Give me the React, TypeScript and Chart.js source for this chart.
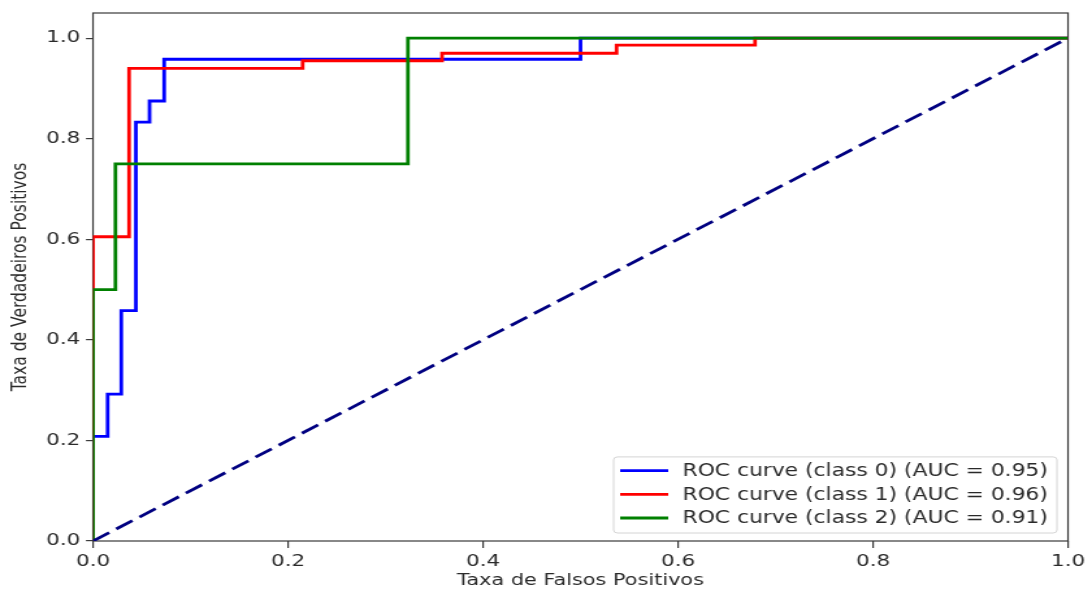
import React, { useEffect, useRef } from 'react';
import { Chart, registerables } from 'chart.js';

Chart.register(...registerables);

// ---- data ----
const fprClass0 = [0, 0, 0.015, 0.015, 0.029, 0.029, 0.044, 0.044, 0.058, 0.058, 0.073, 0.073, 0.5, 0.5, 1];
const tprClass0 = [0, 0.208, 0.208, 0.292, 0.292, 0.458, 0.458, 0.833, 0.833, 0.875, 0.875, 0.958, 0.958, 1, 1];

const fprClass1 = [0, 0, 0.037, 0.037, 0.215, 0.215, 0.358, 0.358, 0.537, 0.537, 0.679, 0.679, 1];
const tprClass1 = [0, 0.605, 0.605, 0.94, 0.94, 0.955, 0.955, 0.97, 0.97, 0.986, 0.986, 1, 1];

const fprClass2 = [0, 0, 0.023, 0.023, 0.323, 0.323, 1];
const tprClass2 = [0, 0.5, 0.5, 0.75, 0.75, 1, 1];

const fprChance = [0, 1];
const tprChance = [0, 1];

const seriesLabels = [
  'ROC curve (class 0) (AUC = 0.95)',
  'ROC curve (class 1) (AUC = 0.96)',
  'ROC curve (class 2) (AUC = 0.91)',
];
const seriesColors = ['#0000ff', '#ff0000', '#008000'];
const chanceColor = '#000080';

const xTickValues = [0, 0.2, 0.4, 0.6, 0.8, 1.0];
const yTickValues = [0, 0.2, 0.4, 0.6, 0.8, 1.0];
const xTitle = 'Taxa de Falsos Positivos';
const yTitle = 'Taxa de Verdadeiros Positivos';

// ---- layout ----
const STRETCH = 1.3;
const VIEW_W = 1088;
const VIEW_H = 592;
const CANVAS_W = Math.round(VIEW_W / STRETCH);
const CANVAS_H = VIEW_H;
const PLOT_LEFT = 93 / STRETCH;
const PLOT_RIGHT = 1068 / STRETCH;
const PLOT_TOP = 13;
const PLOT_BOTTOM = 541;
const FONT = '"DejaVu Sans", sans-serif';
const AXIS_COLOR = '#3a3a3a';
const TEXT_COLOR = '#2a2a2a';

const pts = (xs: number[], ys: number[]) => xs.map((x, i) => ({ x, y: ys[i] }));

const framePlugin = {
  id: 'frame',
  beforeDatasetsDraw(chart: any) {
    const { ctx, chartArea: a } = chart;
    ctx.save();
    ctx.strokeStyle = AXIS_COLOR;
    ctx.lineWidth = 1.2;
    ctx.strokeRect(a.left, a.top, a.right - a.left, a.bottom - a.top);
    ctx.restore();
  },
};

const legendPlugin = {
  id: 'innerLegend',
  afterDraw(chart: any) {
    const { ctx, chartArea: a } = chart;
    const items = chart.data.datasets.filter((d: any) => d.label);
    ctx.save();
    ctx.font = `16.8px ${FONT}`;
    const textW = Math.max(...items.map((d: any) => ctx.measureText(d.label).width));
    const rowH = 23.7;
    const padX = 5;
    const lineLen = 37;
    const gap = 11;
    const boxW = padX + lineLen + gap + textW + 7;
    const boxH = 13.7 + (items.length - 1) * rowH + 15;
    const right = a.right - 8.5;
    const bottom = a.bottom - 8;
    const x0 = right - boxW;
    const y0 = bottom - boxH;
    ctx.beginPath();
    if ((ctx as any).roundRect) (ctx as any).roundRect(x0, y0, boxW, boxH, 3);
    else ctx.rect(x0, y0, boxW, boxH);
    ctx.fillStyle = 'rgba(255,255,255,0.85)';
    ctx.fill();
    ctx.strokeStyle = '#d4d4d4';
    ctx.lineWidth = 1;
    ctx.stroke();
    items.forEach((d: any, i: number) => {
      const y = y0 + 13.7 + i * rowH;
      ctx.beginPath();
      ctx.strokeStyle = d.borderColor;
      ctx.lineWidth = 2.8;
      ctx.moveTo(x0 + padX, y);
      ctx.lineTo(x0 + padX + lineLen, y);
      ctx.stroke();
      ctx.fillStyle = TEXT_COLOR;
      ctx.textBaseline = 'middle';
      ctx.textAlign = 'left';
      ctx.fillText(d.label, x0 + padX + lineLen + gap, y + 1);
    });
    ctx.restore();
  },
};

export default function App() {
  const canvasRef = useRef<HTMLCanvasElement | null>(null);

  useEffect(() => {
    document.body.style.margin = '0';
    const canvas = canvasRef.current;
    if (!canvas) return;
    const lineBase = { pointRadius: 0, pointHoverRadius: 0, tension: 0, fill: false, borderWidth: 2.8 };
    const chart = new Chart(canvas, {
      type: 'line',
      data: {
        datasets: [
          { ...lineBase, label: seriesLabels[0], data: pts(fprClass0, tprClass0), borderColor: seriesColors[0], backgroundColor: seriesColors[0], order: 3 },
          { ...lineBase, label: seriesLabels[1], data: pts(fprClass1, tprClass1), borderColor: seriesColors[1], backgroundColor: seriesColors[1], order: 2 },
          { ...lineBase, label: seriesLabels[2], data: pts(fprClass2, tprClass2), borderColor: seriesColors[2], backgroundColor: seriesColors[2], order: 1 },
          { ...lineBase, label: '', data: pts(fprChance, tprChance), borderColor: chanceColor, backgroundColor: chanceColor, borderDash: [15, 6.5], order: 0 },
        ],
      },
      options: {
        animation: false,
        responsive: false,
        devicePixelRatio: 1,
        layout: { padding: { left: 0, right: CANVAS_W - PLOT_RIGHT, top: PLOT_TOP, bottom: 0 } },
        plugins: { legend: { display: false }, tooltip: { enabled: false }, title: { display: false } },
        scales: {
          x: {
            type: 'linear',
            min: 0,
            max: 1,
            border: { display: false },
            grid: { display: true, drawOnChartArea: false, drawTicks: true, tickLength: 7, color: AXIS_COLOR, lineWidth: 1.2 },
            ticks: { padding: 4, color: TEXT_COLOR, font: { family: FONT, size: 16.5 }, maxRotation: 0, callback: (v: any) => Number(v).toFixed(1) },
            afterBuildTicks: (axis: any) => { axis.ticks = xTickValues.map((value) => ({ value })); },
            afterFit: (axis: any) => {
              axis.height = CANVAS_H - PLOT_BOTTOM;
              axis.paddingLeft = 0;
              axis.paddingRight = 0;
            },
            title: { display: true, text: xTitle, color: TEXT_COLOR, font: { family: FONT, size: 16 }, padding: { top: 2, bottom: 2 } },
          },
          y: {
            type: 'linear',
            min: 0,
            max: 1.05,
            border: { display: false },
            grid: { display: true, drawOnChartArea: false, drawTicks: true, tickLength: 5.4, color: AXIS_COLOR, lineWidth: 1.2 },
            ticks: { padding: 4.5, color: TEXT_COLOR, font: { family: FONT, size: 16.5 }, callback: (v: any) => Number(v).toFixed(1) },
            afterBuildTicks: (axis: any) => { axis.ticks = yTickValues.map((value) => ({ value })); },
            afterFit: (axis: any) => {
              axis.width = PLOT_LEFT;
              axis.paddingTop = 0;
              axis.paddingBottom = 0;
            },
            title: { display: true, text: yTitle, color: TEXT_COLOR, font: { family: FONT, size: 15.5 }, padding: { top: 6.3, bottom: 4 } },
          },
        },
      },
      plugins: [framePlugin, legendPlugin],
    } as any);
    return () => chart.destroy();
  }, []);

  return (
    <div style={{ width: VIEW_W, height: VIEW_H, overflow: 'hidden', background: '#fff' }}>
      <div style={{ width: CANVAS_W, height: CANVAS_H, transform: `scaleX(${STRETCH})`, transformOrigin: '0 0' }}>
        <canvas ref={canvasRef} width={CANVAS_W} height={CANVAS_H} style={{ display: 'block', width: CANVAS_W, height: CANVAS_H }} />
      </div>
    </div>
  );
}
